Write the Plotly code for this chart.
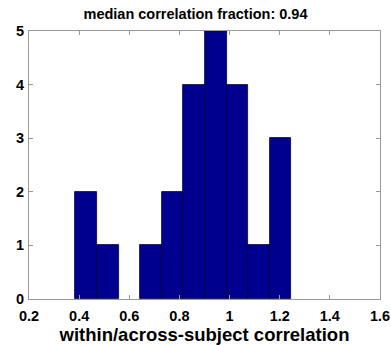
import plotly.graph_objects as go

bin_edges = [0.385, 0.471, 0.557, 0.643, 0.729, 0.815, 0.901, 0.988, 1.074, 1.160, 1.246]
counts = [2, 1, 0, 1, 2, 4, 5, 4, 1, 3]
x_ticks = [0.2, 0.4, 0.6, 0.8, 1.0, 1.2, 1.4, 1.6]
x_tick_labels = ["0.2", "0.4", "0.6", "0.8", "1", "1.2", "1.4", "1.6"]
y_ticks = [0, 1, 2, 3, 4, 5]
title_text = "median correlation fraction: 0.94"
x_label = "within/across-subject correlation"

centers = [(a + b) / 2 for a, b in zip(bin_edges[:-1], bin_edges[1:])]
widths = [b - a for a, b in zip(bin_edges[:-1], bin_edges[1:])]
edge_widths = [0.8 if c > 0 else 0 for c in counts]

fig = go.Figure(go.Bar(
    x=centers, y=counts, width=widths,
    marker=dict(color="#00008F", line=dict(color="#000033", width=edge_widths)),
))

font_family = "Liberation Sans, Arial, Helvetica, sans-serif"
fig.update_layout(
    width=391, height=345,
    margin=dict(l=29, r=11, t=31, b=46, autoexpand=False),
    plot_bgcolor="white", paper_bgcolor="white",
    showlegend=False,
    bargap=0,
    font=dict(family=font_family, color="black"),
    title=dict(text="<b>" + title_text + "</b>", x=0.5, xanchor="center",
               y=1 - 14 / 345, yanchor="middle", font=dict(size=14.5)),
)
fig.update_xaxes(
    range=[0.2, 1.6], tickvals=x_ticks, ticktext=["<b>%s</b>" % t for t in x_tick_labels],
    ticks="inside", ticklen=4, tickcolor="#999999", showgrid=False, zeroline=False,
    showline=True, linecolor="#999999", linewidth=1, mirror="ticks", automargin=False,
    tickfont=dict(size=14.5), ticklabelstandoff=4,
    title=dict(text="<b>" + x_label + "</b>", font=dict(size=18.5), standoff=0),
)
fig.update_yaxes(
    range=[0, 5], tickvals=y_ticks, ticktext=["<b>%d</b>" % t for t in y_ticks],
    ticks="inside", ticklen=4, tickcolor="#999999", showgrid=False, zeroline=False,
    showline=True, linecolor="#999999", linewidth=1, mirror="ticks", automargin=False,
    tickfont=dict(size=14.5), ticklabelstandoff=1,
)
fig.write_html("out.html")
